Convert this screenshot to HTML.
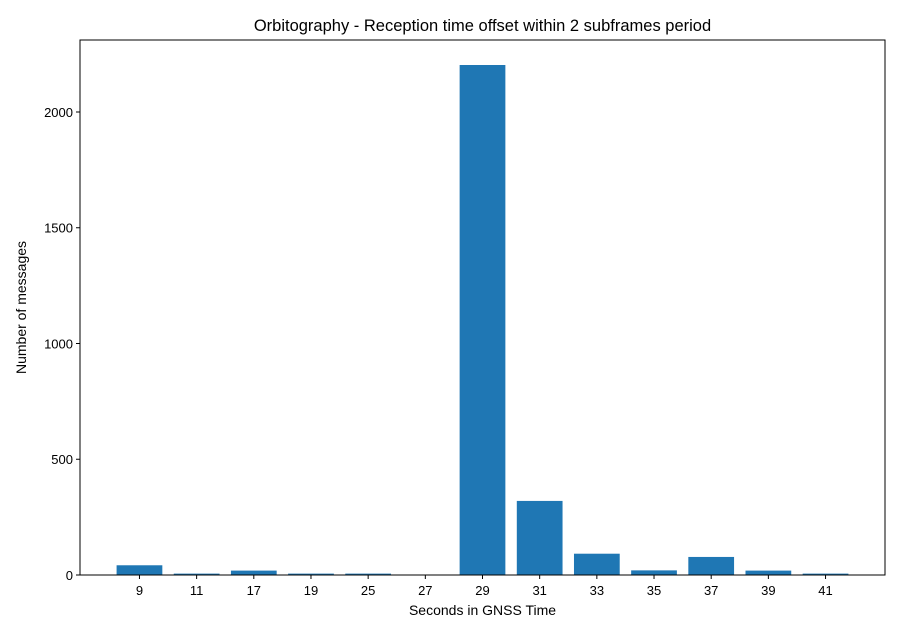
<!DOCTYPE html>
<html><head><meta charset="utf-8"><style>
body{margin:0;background:#fff;font-family:"Liberation Sans","DejaVu Sans",sans-serif;}
</style></head><body>
<svg id="chart" width="900" height="637" xmlns="http://www.w3.org/2000/svg" font-family="Liberation Sans, DejaVu Sans, sans-serif">
<rect width="900" height="637" fill="#fff"/>
<text x="482.5" y="31" text-anchor="middle" font-size="16.5">Orbitography - Reception time offset within 2 subframes period</text>
<g id="bars"></g>
<g id="axes"></g>
<rect x="80" y="40" width="805" height="535" fill="none" stroke="#000" stroke-width="1"/>
<text x="482.5" y="615" text-anchor="middle" font-size="14">Seconds in GNSS Time</text>
<text transform="translate(26,307.5) rotate(-90)" text-anchor="middle" font-size="14">Number of messages</text>
</svg>
<script>
const categories = ["9","11","17","19","25","27","29","31","33","35","37","39","41"];
const values = [42, 6, 19, 6, 6, 1, 2203, 320, 92, 20, 78, 19, 6];
const yTicks = [0, 500, 1000, 1500, 2000];

const L=80,R=885,T=40,B=575;
const xMin=-1.04,xMax=13.04,yMax=2311;
const xs=i=>L+(i-xMin)/(xMax-xMin)*(R-L);
const ys=v=>B-v/yMax*(B-T);
const NS="http://www.w3.org/2000/svg";
const bars=document.getElementById('bars'), axes=document.getElementById('axes');
const bw=0.8*(R-L)/(xMax-xMin);
categories.forEach((c,i)=>{
  const r=document.createElementNS(NS,'rect');
  
  
  r.setAttribute('x',xs(i)-bw/2);r.setAttribute('y',ys(values[i]));
  r.setAttribute('width',bw);r.setAttribute('height',B-ys(values[i]));
  r.setAttribute('fill','#1f77b4');bars.appendChild(r);
  const t=document.createElementNS(NS,'line');
  
  
  t.setAttribute('x1',xs(i));t.setAttribute('x2',xs(i));t.setAttribute('y1',B);t.setAttribute('y2',B+4);
  t.setAttribute('stroke','#000');axes.appendChild(t);
  const l=document.createElementNS(NS,'text');
  
  
  l.setAttribute('x',xs(i));l.setAttribute('y',B+20);l.setAttribute('text-anchor','middle');l.setAttribute('font-size','13');
  l.textContent=c;axes.appendChild(l);
});
yTicks.forEach(v=>{
  const t=document.createElementNS(NS,'line');
  
  
  t.setAttribute('x1',L-4);t.setAttribute('x2',L);t.setAttribute('y1',ys(v));t.setAttribute('y2',ys(v));
  t.setAttribute('stroke','#000');axes.appendChild(t);
  const l=document.createElementNS(NS,'text');
  
  
  l.setAttribute('x',L-7);l.setAttribute('y',ys(v)+5);l.setAttribute('text-anchor','end');l.setAttribute('font-size','13');
  l.textContent=v;axes.appendChild(l);
});
</script>
</body></html>
